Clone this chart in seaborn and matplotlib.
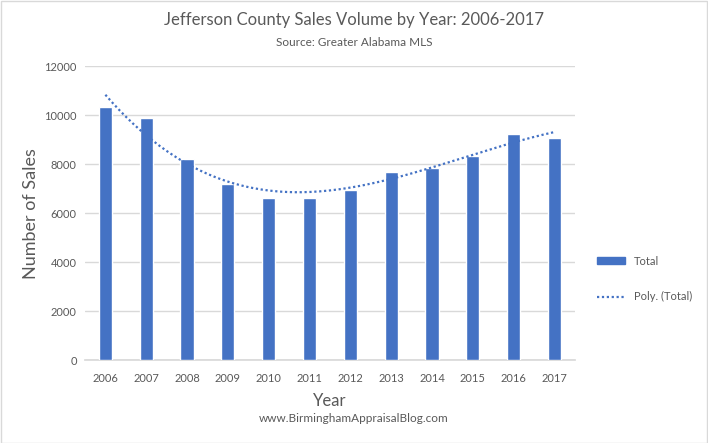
"""
Jefferson County sales volume by year, bar chart with polynomial trend
"""
import numpy as np
import pandas as pd
import matplotlib
matplotlib.use("Agg")
import matplotlib.pyplot as plt
from matplotlib.lines import Line2D
from matplotlib.patches import Patch
import seaborn as sns

# Data
years = ["2006", "2007", "2008", "2009", "2010", "2011",
         "2012", "2013", "2014", "2015", "2016", "2017"]
totals = [10340, 9880, 8205, 7185, 6625, 6625,
          6945, 7675, 7850, 8330, 9225, 9060]
y_ticks = [0, 2000, 4000, 6000, 8000, 10000, 12000]

BLUE = "#4472C4"
GREY = "#595959"

sns.set_theme(style="white")
plt.rcParams["font.family"] = ["Lato", "DejaVu Sans"]

df = pd.DataFrame({"Year": years, "Total": totals})

fig = plt.figure(figsize=(7.08, 4.43), dpi=100)
ax = fig.add_axes([0.120, 0.187, 0.692, 0.664])

sns.barplot(data=df, x="Year", y="Total", color=BLUE, width=0.32,
            saturation=1, ax=ax, zorder=3)

# Excel-style polynomial trendline (order 3)
x = np.arange(len(totals))
coef = np.polyfit(x + 1, totals, 3)
xs = np.linspace(0, len(totals) - 1, 200)
ax.plot(xs, np.polyval(coef, xs + 1), color=BLUE, lw=1.6,
        linestyle=(0, (1, 1.2)), zorder=4)

ax.set_ylim(0, 12000)
ax.set_xlim(-0.5, len(years) - 0.5)
ax.set_yticks(y_ticks)
ax.yaxis.grid(True, color="#D9D9D9", lw=1, zorder=0)
for side in ["top", "right", "left"]:
    ax.spines[side].set_visible(False)
ax.spines["bottom"].set_color("#D9D9D9")
ax.tick_params(axis="both", length=0, labelsize=8, labelcolor=GREY, pad=6)
ax.tick_params(axis="x", pad=9)

ax.set_xlabel("Year", fontsize=12, color=GREY, labelpad=7)
ax.set_ylabel("Number of Sales", fontsize=13, color=GREY, labelpad=4)

fig.text(0.5, 0.955, "Jefferson County Sales Volume by Year: 2006-2017",
         ha="center", va="center", fontsize=12, color=GREY)
fig.text(0.5, 0.903, "Source: Greater Alabama MLS",
         ha="center", va="center", fontsize=8.5, color=GREY)
fig.text(0.5, 0.055, "www.BirminghamAppraisalBlog.com",
         ha="center", va="center", fontsize=8.5, color=GREY)

handles = [Patch(facecolor=BLUE, edgecolor=BLUE),
           Line2D([0], [0], color=BLUE, lw=1.6, linestyle=(0, (1, 1.2)))]
fig.legend(handles, ["Total", "Poly. (Total)"], loc="center left",
           bbox_to_anchor=(0.829, 0.37), frameon=False, fontsize=8,
           labelcolor=GREY, handlelength=2.5, labelspacing=2.2,
           handleheight=0.6)

# thin grey border around the whole chart
fig.patches.append(plt.Rectangle((0.001, 0.001), 0.998, 0.996,
                                 transform=fig.transFigure, fill=False,
                                 edgecolor="#D9D9D9", lw=1))

fig.savefig("out.png", dpi=100)
